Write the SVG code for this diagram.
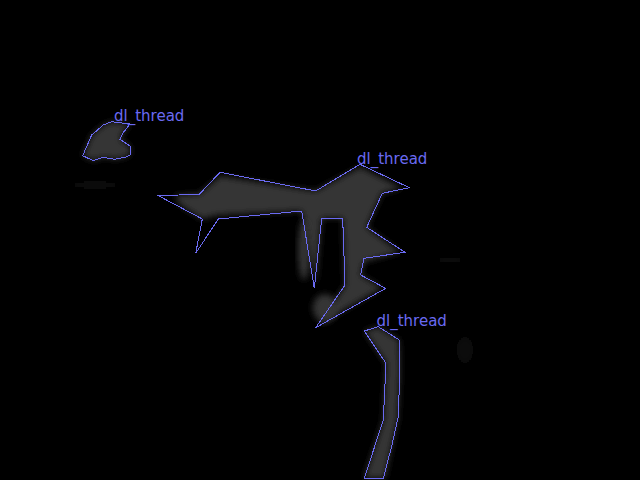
<svg xmlns="http://www.w3.org/2000/svg" width="640" height="480" viewBox="0 0 640 480">
<style>
.mask{fill:#343434;filter:url(#soft)}
.faint{fill:#101010;filter:url(#blur6)}
.outline{fill:none;stroke:#6a6af2;stroke-width:1;stroke-linejoin:miter;shape-rendering:crispEdges}
.lbl{font-family:"DejaVu Sans",sans-serif;font-size:15px;fill:#6a6af2}
</style>
<defs>
<filter id="soft" x="-20%" y="-20%" width="140%" height="140%"><feGaussianBlur stdDeviation="3"/></filter>
<filter id="blur6" x="-50%" y="-50%" width="200%" height="200%"><feGaussianBlur stdDeviation="6"/></filter>
</defs>
<rect width="640" height="480" fill="#000"/>
<g id="faint-blobs">
<ellipse class="faint" cx="95" cy="185" rx="28" ry="5"/>
<ellipse class="faint" cx="450" cy="260" rx="20" ry="4"/>
<ellipse class="faint" cx="465" cy="350" rx="8" ry="14"/>
</g>
<g id="node1">
<polygon class="mask" points="111.7,121.7 130,124 122.7,133.3 120,139.3 130,146 130,155 125,157.3 115,159.3 103.3,157.3 93.3,160.7 82.7,155.7 91.7,135 103.3,125"/>
<polygon class="outline" points="111.7,121.7 130,124 122.7,133.3 120,139.3 130,146 130,155 125,157.3 115,159.3 103.3,157.3 93.3,160.7 82.7,155.7 91.7,135 103.3,125"/>
<text class="lbl" x="114" y="121">dl_thread</text>
</g>
<g id="node2">
<polygon class="mask" points="175,195 199,194 220,176 315,191 360,167 402,188 382,193 366.7,227.3 400,252 364,262 360.7,275 382,288 318,325 345,285 342.7,218.3 321.7,218.3 316,285 301.7,211 218.3,215 202,219 180,205"/>
<ellipse class="mask" cx="325" cy="308" rx="12" ry="14"/>
<ellipse class="mask" cx="304" cy="250" rx="6" ry="30"/>
<polygon class="outline" points="158.3,195.7 199.3,194.3 220,172.3 315.7,191 360,164.3 409.3,187.7 382.3,193.3 366.7,227.3 405,252.3 364,258.3 360.7,275 385.7,288.3 315.7,327.7 345,285 342.7,218.3 321.7,218.3 314.3,288.3 301.7,211 218.3,219 195.7,253.3 202.3,219"/>
<text class="lbl" x="357" y="164">dl_thread</text>
</g>
<g id="node3">
<polygon class="mask" points="364.3,331 378.3,326.7 399.3,340 400,372 398,418 392,445 385,478.3 364.3,478.3 383.3,420 386,363.3"/>
<polygon class="outline" points="364.3,331 378.3,326.7 399.3,340 400,372 398,418 392,445 383.3,478.3 364.3,478.3 383.3,420 386,363.3"/>
<text class="lbl" x="376.5" y="326">dl_thread</text>
</g>
<g id="connectors"/>
</svg>
